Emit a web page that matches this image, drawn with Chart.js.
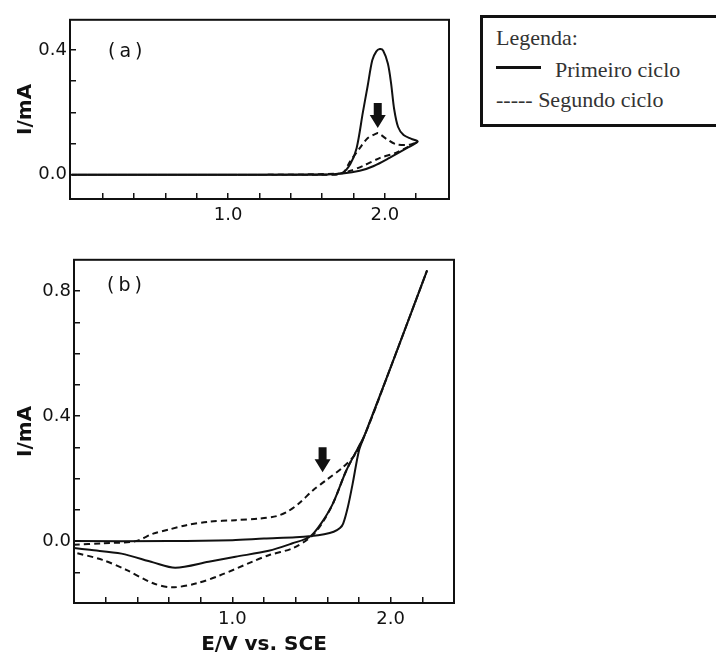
<!DOCTYPE html>
<html>
<head>
<meta charset="utf-8">
<script src="https://cdn.jsdelivr.net/npm/chart.js@4.4.1/dist/chart.umd.min.js"></script>
<style>
  body { margin: 0; background: #fff; width: 716px; height: 655px; overflow: hidden; position: relative; }
  #panelA { position: absolute; left: 0; top: 0; }
  #panelB { position: absolute; left: 0; top: 240px; }
  #legend { position: absolute; left: 480px; top: 15px; width: 260px; height: 112px; box-sizing: border-box;
            border: 3px solid #111; font-family: "Liberation Serif", "Times New Roman", serif; font-size: 22px; color: #333; }
  #legend div { position: absolute; line-height: 22px; white-space: nowrap; }
  #legend .solid { height: 3px; background: #111; }
</style>
</head>
<body>
<div id="panelA"><canvas id="chartA" width="470" height="230"></canvas></div>
<div id="panelB"><canvas id="chartB" width="470" height="415"></canvas></div>
<div id="legend">
  <div style="left:13px; top:9px;">Legenda:</div>
  <div class="solid" style="left:13px; top:48px; width:45px;"></div>
  <div style="left:72px; top:41px;">Primeiro ciclo</div>
  <div style="left:13px; top:71px;">----- Segundo ciclo</div>
</div>
<script>
// panel (a): potential (V) and current (mA)
const aSolidE = [0, 0.5, 1.0, 1.5, 1.65, 1.73, 1.78, 1.82, 1.86, 1.89, 1.92, 1.945, 1.968, 1.99, 2.02, 2.04, 2.06, 2.085, 2.12, 2.17, 2.21,
                 2.14, 2.03, 1.93, 1.84, 1.73, 1.6, 1.0, 0.5, 0];
const aSolidI = [0, 0, 0, 0, 0.001, 0.006, 0.034, 0.085, 0.2, 0.283, 0.367, 0.395, 0.403, 0.398, 0.356, 0.294, 0.21, 0.153, 0.127, 0.115, 0.106,
                 0.085, 0.054, 0.028, 0.0125, 0.004, 0.001, 0, 0, 0];
const aDashE = [0, 1.0, 1.6, 1.73, 1.78, 1.84, 1.89, 1.945, 1.96, 2.01, 2.07, 2.16, 2.21, 2.07, 1.97, 1.86, 1.78, 1.7, 1.0, 0];
const aDashI = [0, 0, 0, 0.005, 0.044, 0.085, 0.117, 0.132, 0.133, 0.115, 0.098, 0.096, 0.106, 0.07, 0.054, 0.028, 0.0125, 0.003, 0, 0];

// panel (b)
const bSolidE = [0, 0.6, 1.0, 1.2, 1.4, 1.5, 1.58, 1.64, 1.68, 1.70, 1.73, 1.76, 1.80, 1.835, 2.0, 2.23,
                 2.0, 1.835, 1.80, 1.72, 1.635, 1.56, 1.49, 1.38, 1.23, 1.02, 0.85, 0.64, 0.5, 0.3, 0.1, 0];
const bSolidI = [0, 0, 0.003, 0.008, 0.012, 0.016, 0.022, 0.03, 0.042, 0.056, 0.11, 0.184, 0.29, 0.338, 0.556, 0.866,
                 0.556, 0.338, 0.304, 0.226, 0.12, 0.056, 0.014, -0.007, -0.031, -0.05, -0.066, -0.085, -0.068, -0.04, -0.028, -0.022];
const bDashE = [0, 0.18, 0.39, 0.5, 0.6, 0.71, 0.85, 1.02, 1.17, 1.28, 1.35, 1.42, 1.51, 1.59, 1.70, 1.78, 1.835, 2.0, 2.23,
                2.0, 1.835, 1.72, 1.64, 1.57, 1.5, 1.38, 1.23, 1.13, 0.92, 0.775, 0.62, 0.5, 0.33, 0.18, 0];
const bDashI = [-0.012, -0.007, 0.0, 0.024, 0.037, 0.051, 0.062, 0.067, 0.072, 0.08, 0.095, 0.12, 0.163, 0.194, 0.237, 0.28, 0.338, 0.556, 0.866,
                0.556, 0.338, 0.226, 0.125, 0.06, 0.015, -0.023, -0.045, -0.065, -0.11, -0.135, -0.148, -0.135, -0.092, -0.06, -0.036];

// ticks
const xTicks = [0.2, 0.4, 0.6, 0.8, 1.0, 1.2, 1.4, 1.6, 1.8, 2.0, 2.2];
const xLabelled = [1.0, 2.0];
const aYTicks = [0.0, 0.1, 0.2, 0.3, 0.4];
const aYLabelled = [0.0, 0.4];
const bYTicks = [-0.1, 0.0, 0.1, 0.2, 0.3, 0.4, 0.5, 0.6, 0.7, 0.8];
const bYLabelled = [0.0, 0.4, 0.8];

// marker arrows (tip position, in data units)
const aArrow = [1.955, 0.15];
const bArrow = [1.57, 0.22];

const ink = '#111';

function pts(E, I) { return E.map((e, i) => ({x: e, y: I[i]})); }

function labelFor(list) {
  return v => list.some(l => Math.abs(l - v) < 1e-6) ? v.toFixed(1) : '';
}

// frame, panel letter and the black arrow
const extras = {
  id: 'extras',
  afterDraw(chart, args, o) {
    const {ctx, chartArea: a, scales} = chart;
    ctx.save();
    ctx.strokeStyle = ink;
    ctx.lineWidth = 2;
    ctx.strokeRect(a.left, a.top, a.right - a.left, a.bottom - a.top);
    ctx.fillStyle = ink;
    ctx.font = '19px "DejaVu Sans"';
    ctx.letterSpacing = '4px';
    ctx.textBaseline = 'middle';
    ctx.fillText(o.letter, a.left + o.dx, a.top + o.dy);
    const x = scales.x.getPixelForValue(o.arrow[0]);
    const y = scales.y.getPixelForValue(o.arrow[1]);
    ctx.beginPath();
    ctx.moveTo(x, y);
    ctx.lineTo(x - 8, y - 13);
    ctx.lineTo(x - 4, y - 13);
    ctx.lineTo(x - 4, y - 25);
    ctx.lineTo(x + 4, y - 25);
    ctx.lineTo(x + 4, y - 13);
    ctx.lineTo(x + 8, y - 13);
    ctx.closePath();
    ctx.fill();
    ctx.restore();
  }
};

function makePanel(canvas, s, d, p) {
  return new Chart(canvas, {
    type: 'scatter',
    data: {
      datasets: [
        {label: 'Primeiro ciclo', data: s, showLine: true, borderColor: ink, borderWidth: 2, pointRadius: 0, tension: 0.3},
        {label: 'Segundo ciclo', data: d, showLine: true, borderColor: ink, borderWidth: 2, borderDash: [6, 4], pointRadius: 0, tension: 0.3}
      ]
    },
    options: {
      responsive: false,
      animation: false,
      layout: {padding: {top: p.padTop, right: p.padRight, left: 0, bottom: 0}},
      plugins: {legend: {display: false}, tooltip: {enabled: false}, extras: p.extras},
      scales: {
        x: {
          type: 'linear', min: p.xMin, max: p.xMax,
          afterBuildTicks: sc => { sc.ticks = xTicks.map(v => ({value: v})); },
          afterFit: sc => { sc.height = p.bottomH; },
          border: {display: true, color: ink, width: 2},
          grid: {display: true, drawOnChartArea: false, drawTicks: true, tickLength: -6, color: ink, lineWidth: 1.5},
          ticks: {color: ink, padding: 12, maxRotation: 0, autoSkip: false, font: {family: 'DejaVu Sans', size: 18},
                  callback: labelFor(xLabelled)},
          title: p.xTitle ? {display: true, text: p.xTitle, color: ink, padding: 0,
                             font: {family: 'DejaVu Sans', size: 20, weight: 'bold', lineHeight: 1}} : {display: false}
        },
        y: {
          type: 'linear', min: p.yMin, max: p.yMax,
          afterBuildTicks: sc => { sc.ticks = p.yTicks.map(v => ({value: v})); },
          afterFit: sc => { sc.width = p.leftW; },
          border: {display: true, color: ink, width: 2},
          grid: {display: true, drawOnChartArea: false, drawTicks: true, tickLength: -6, color: ink, lineWidth: 1.5},
          ticks: {color: ink, padding: 9, autoSkip: false, font: {family: 'DejaVu Sans', size: 18},
                  callback: labelFor(p.yLabelled)},
          title: {display: true, text: 'I/mA', color: ink, padding: {top: 14, bottom: 0},
                  font: {family: 'DejaVu Sans', size: 20, weight: 'bold'}}
        }
      }
    },
    plugins: [extras]
  });
}

makePanel(document.getElementById('chartA'), pts(aSolidE, aSolidI), pts(aDashE, aDashI), {
  padTop: 15, padRight: 21, leftW: 70, bottomH: 31,
  xMin: -0.01, xMax: 2.41, yMin: -0.078, yMax: 0.497,
  yTicks: aYTicks, yLabelled: aYLabelled, xTitle: null,
  extras: {letter: '(a)', dx: 38, dy: 32, arrow: aArrow}
});

makePanel(document.getElementById('chartB'), pts(bSolidE, bSolidI), pts(bDashE, bDashI), {
  padTop: 19, padRight: 16, leftW: 74, bottomH: 52,
  xMin: 0, xMax: 2.4, yMin: -0.198, yMax: 0.9,
  yTicks: bYTicks, yLabelled: bYLabelled, xTitle: 'E/V vs. SCE',
  extras: {letter: '(b)', dx: 33, dy: 26, arrow: bArrow}
});
</script>
</body>
</html>
